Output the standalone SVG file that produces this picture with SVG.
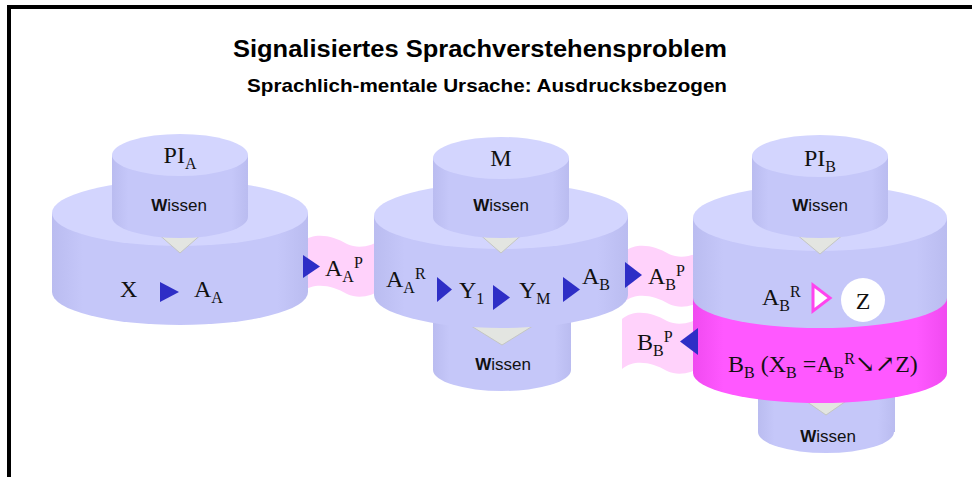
<svg xmlns="http://www.w3.org/2000/svg" width="972" height="477" viewBox="0 0 972 477">
  <defs>
    <linearGradient id="body" x1="0" y1="0" x2="1" y2="0">
      <stop offset="0" stop-color="#babcf0"/>
      <stop offset="0.12" stop-color="#c5c7f9"/>
      <stop offset="0.88" stop-color="#c5c7f9"/>
      <stop offset="1" stop-color="#babcf0"/>
    </linearGradient>
    <linearGradient id="band" x1="0" y1="0" x2="1" y2="0">
      <stop offset="0" stop-color="#f04af0"/>
      <stop offset="0.12" stop-color="#ff58ff"/>
      <stop offset="0.88" stop-color="#ff58ff"/>
      <stop offset="1" stop-color="#f04af0"/>
    </linearGradient>
    <!-- wavy ribbon used for the message flags between the stacks -->
    <path id="wave" d="M0,7 C12,-3 30,0 45,9 C58,15 70,10 80,5 L80,55 C70,60 58,65 45,59 C30,50 12,47 0,57 Z"/>
    <style>
      .body { fill: url(#body); }
      .top { fill: #d3d5fe; }
      .band { fill: url(#band); }
      .drop { fill: #e3e5e1; stroke: #c4c6c2; stroke-width: 1; }
      .ribbon { fill: #ffd2fb; }
      .arrow { fill: #2e2ec6; }
      .serif { font-family: "Liberation Serif", "Times New Roman", "DejaVu Serif", serif; font-size: 24px; fill: #111; }
      .sub { font-size: 16px; }
      .sans { font-family: "Liberation Sans", Arial, sans-serif; font-size: 17px; fill: #111; }
      .title { font-family: "Liberation Sans", Arial, sans-serif; font-weight: bold; fill: #000; }
    </style>
  </defs>

  <rect width="972" height="477" fill="#ffffff"/>
  <!-- frame -->
  <path d="M9,477 V7 H972" fill="none" stroke="#000" stroke-width="4"/>

  <!-- headings -->
  <text class="title" x="233" y="57" font-size="23" textLength="494" lengthAdjust="spacingAndGlyphs">Signalisiertes Sprachverstehensproblem</text>
  <text class="title" x="247" y="92" font-size="19" textLength="480" lengthAdjust="spacingAndGlyphs">Sprachlich-mentale Ursache: Ausdrucksbezogen</text>

  <!-- message ribbons (behind the stacks) -->
  <g id="connectors">
    <use href="#wave" class="ribbon" transform="translate(302,235)"/>
    <use href="#wave" class="ribbon" transform="translate(624,245)"/>
    <use href="#wave" class="ribbon" transform="translate(622,312)"/>
  </g>

  <!-- stack PI_A -->
  <g id="node-pia">
    <rect class="body" x="52" y="213" width="256" height="79"/>
    <ellipse class="body" cx="180" cy="292" rx="128" ry="33"/>
    <ellipse class="top" cx="180" cy="213" rx="128" ry="33"/>
    <polygon class="drop" points="156,232 204,232 180,253"/>
    <rect class="body" x="112" y="155" width="136" height="62"/>
    <ellipse class="body" cx="180" cy="217" rx="68" ry="21"/>
    <ellipse class="top" cx="180" cy="155" rx="68" ry="21"/>
    <text class="serif" x="180" y="163" text-anchor="middle">PI<tspan class="sub" dy="6">A</tspan></text>
    <text class="sans" x="179" y="211" text-anchor="middle"><tspan font-weight="bold">W</tspan>issen</text>
    <text class="serif" x="120" y="297">X</text>
    <polygon class="arrow" points="160,282 160,302 179,292"/>
    <text class="serif" x="194" y="297">A<tspan class="sub" dy="6">A</tspan></text>
  </g>

  <!-- stack M -->
  <g id="node-m">
    <rect class="body" x="433" y="300" width="138" height="70"/>
    <ellipse class="body" cx="502" cy="370" rx="69" ry="21"/>
    <polygon class="drop" points="468,324 536,324 502,345"/>
    <text class="sans" x="503" y="370" text-anchor="middle"><tspan font-weight="bold">W</tspan>issen</text>
    <rect class="body" x="374" y="216" width="254" height="79"/>
    <ellipse class="body" cx="501" cy="295" rx="127" ry="33"/>
    <ellipse class="top" cx="501" cy="216" rx="127" ry="33"/>
    <polygon class="drop" points="477,232 525,232 501,253"/>
    <rect class="body" x="433" y="158" width="136" height="59"/>
    <ellipse class="body" cx="501" cy="217" rx="68" ry="21"/>
    <ellipse class="top" cx="501" cy="158" rx="68" ry="21"/>
    <text class="serif" x="501" y="166" text-anchor="middle">M</text>
    <text class="sans" x="501" y="211" text-anchor="middle"><tspan font-weight="bold">W</tspan>issen</text>
    <text class="serif" x="386" y="287">A<tspan class="sub" dy="6">A</tspan><tspan class="sub" dy="-14">R</tspan></text>
    <polygon class="arrow" points="437,277 437,302 452,289.5"/>
    <text class="serif" x="459" y="298">Y<tspan class="sub" dy="6">1</tspan></text>
    <polygon class="arrow" points="493,285 493,310 510,297.5"/>
    <text class="serif" x="519" y="298">Y<tspan class="sub" dy="6">M</tspan></text>
    <polygon class="arrow" points="563,277 563,302 580,289.5"/>
    <text class="serif" x="582" y="284">A<tspan class="sub" dy="6">B</tspan></text>
  </g>

  <!-- stack PI_B -->
  <g id="node-pib">
    <rect class="body" x="758" y="390" width="137" height="42"/>
    <ellipse class="body" cx="826" cy="432" rx="68" ry="21"/>
    <polygon class="drop" points="800,397 852,397 826,415"/>
    <text class="sans" x="828" y="442" text-anchor="middle"><tspan font-weight="bold">W</tspan>issen</text>
    <rect class="band" x="693" y="298" width="254" height="75"/>
    <ellipse class="band" cx="820" cy="373" rx="127" ry="30"/>
    <rect class="body" x="693" y="218" width="254" height="80"/>
    <ellipse class="body" cx="820" cy="298" rx="127" ry="30"/>
    <ellipse class="top" cx="820" cy="218" rx="127" ry="33"/>
    <polygon class="drop" points="796,234 844,234 820,254"/>
    <rect class="body" x="752" y="156" width="136" height="61"/>
    <ellipse class="body" cx="820" cy="217" rx="68" ry="21"/>
    <ellipse class="top" cx="820" cy="156" rx="68" ry="21"/>
    <text class="serif" x="820" y="166" text-anchor="middle">PI<tspan class="sub" dy="6">B</tspan></text>
    <text class="sans" x="820" y="211" text-anchor="middle"><tspan font-weight="bold">W</tspan>issen</text>
    <text class="serif" x="762" y="305">A<tspan class="sub" dy="6">B</tspan><tspan class="sub" dy="-14">R</tspan></text>
    <polygon points="813,285 813,311 830,298" fill="#ffffff" stroke="#ff44ee" stroke-width="3" stroke-linejoin="miter"/>
    <circle cx="863" cy="300" r="22" fill="#ffffff"/>
    <text class="serif" x="863" y="309" text-anchor="middle">Z</text>
    <text class="serif" x="728" y="372">B<tspan class="sub" dy="6">B</tspan><tspan dy="-6"> (X</tspan><tspan class="sub" dy="6">B</tspan><tspan dy="-6"> =A</tspan><tspan class="sub" dy="6">B</tspan><tspan class="sub" dy="-14">R</tspan><tspan dy="8">↘↗Z)</tspan></text>
  </g>

  <!-- ribbon arrows and labels -->
  <g id="connector-labels">
    <polygon class="arrow" points="303,255 303,278 320,266.5"/>
    <text class="serif" x="325" y="276">A<tspan class="sub" dy="6">A</tspan><tspan class="sub" dy="-14">P</tspan></text>
    <polygon class="arrow" points="625,262 625,288 642,275"/>
    <text class="serif" x="648" y="284">A<tspan class="sub" dy="6">B</tspan><tspan class="sub" dy="-14">P</tspan></text>
    <text class="serif" x="637" y="350">B<tspan class="sub" dy="6">B</tspan><tspan class="sub" dy="-14">P</tspan></text>
    <polygon class="arrow" points="698,328 698,355 680,341.5"/>
  </g>
</svg>
